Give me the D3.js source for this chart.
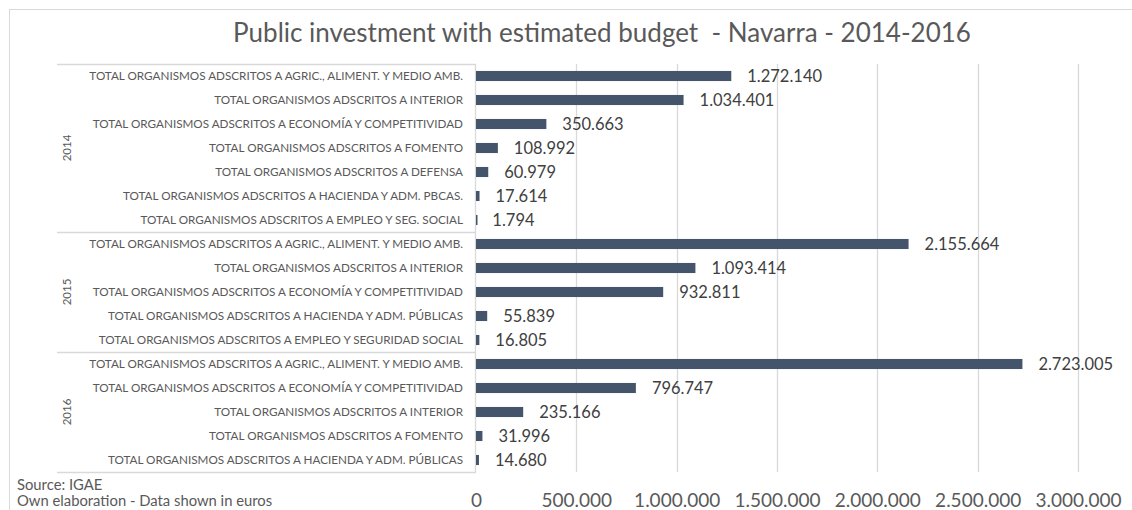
<!DOCTYPE html>
<html><head><meta charset="utf-8">
<script src="https://cdn.jsdelivr.net/npm/d3@7"></script>
<style>
body{margin:0;background:#fff;}
text{font-family:Lato, "Liberation Sans", sans-serif;}
</style></head>
<body><svg id="c" width="1132" height="510"></svg>
<script>
const years = ["2014","2015","2016"];
const labels2014 = [
 "TOTAL ORGANISMOS ADSCRITOS A AGRIC., ALIMENT. Y MEDIO AMB.",
 "TOTAL ORGANISMOS ADSCRITOS A INTERIOR",
 "TOTAL ORGANISMOS ADSCRITOS A ECONOMÍA Y COMPETITIVIDAD",
 "TOTAL ORGANISMOS ADSCRITOS A FOMENTO",
 "TOTAL ORGANISMOS ADSCRITOS A DEFENSA",
 "TOTAL ORGANISMOS ADSCRITOS A HACIENDA Y ADM. PBCAS.",
 "TOTAL ORGANISMOS ADSCRITOS A EMPLEO Y SEG. SOCIAL"];
const values2014 = [1272140,1034401,350663,108992,60979,17614,1794];
const labels2015 = [
 "TOTAL ORGANISMOS ADSCRITOS A AGRIC., ALIMENT. Y MEDIO AMB.",
 "TOTAL ORGANISMOS ADSCRITOS A INTERIOR",
 "TOTAL ORGANISMOS ADSCRITOS A ECONOMÍA Y COMPETITIVIDAD",
 "TOTAL ORGANISMOS ADSCRITOS A HACIENDA Y ADM. PÚBLICAS",
 "TOTAL ORGANISMOS ADSCRITOS A EMPLEO Y SEGURIDAD SOCIAL"];
const values2015 = [2155664,1093414,932811,55839,16805];
const labels2016 = [
 "TOTAL ORGANISMOS ADSCRITOS A AGRIC., ALIMENT. Y MEDIO AMB.",
 "TOTAL ORGANISMOS ADSCRITOS A ECONOMÍA Y COMPETITIVIDAD",
 "TOTAL ORGANISMOS ADSCRITOS A INTERIOR",
 "TOTAL ORGANISMOS ADSCRITOS A FOMENTO",
 "TOTAL ORGANISMOS ADSCRITOS A HACIENDA Y ADM. PÚBLICAS"];
const values2016 = [2723005,796747,235166,31996,14680];
const xTicks = [0,500000,1000000,1500000,2000000,2500000,3000000];
const title = "Public investment with estimated budget  - Navarra - 2014-2016";
const note1 = "Source: IGAE";
const note2 = "Own elaboration - Data shown in euros";

const groups = [[years[0],labels2014,values2014],[years[1],labels2015,values2015],[years[2],labels2016,values2016]];
const rows = [];
groups.forEach(([yr,ls,vs])=>ls.forEach((l,i)=>rows.push({year:yr,label:l,value:vs[i],key:yr+"|"+i})));

const loc = d3.formatLocale({decimal:",",thousands:".",grouping:[3],currency:["","€"]});
const fmt = loc.format(",d");

const svg = d3.select("#c");
const pLeft=476, pRight=1078, pTop=64, pBottom=472;
const x = d3.scaleLinear().domain([0,3000000]).range([pLeft,pRight]);
const y = d3.scaleBand().domain(rows.map(d=>d.key)).range([pTop,pBottom]).paddingInner(0.58).paddingOuter(0.29);

// outer border
svg.append("rect").attr("x",9.5).attr("y",9.5).attr("width",1140).attr("height",520)
  .attr("fill","none").attr("stroke","#d9d9d9");

// title
svg.append("text").attr("x",602).attr("y",42).attr("text-anchor","middle")
  .style("white-space","pre")
  .attr("font-size",26).attr("fill","#595959").text(title);

// gridlines
svg.append("g").selectAll("line").data(xTicks.slice(1)).join("line")
  .attr("x1",d=>Math.round(x(d))+0.5).attr("x2",d=>Math.round(x(d))+0.5)
  .attr("y1",pTop).attr("y2",pBottom).attr("stroke","#d9d9d9").attr("stroke-width",1.3);

// axis tick labels
const xa = svg.append("g").attr("transform",`translate(0,${pBottom})`)
  .call(d3.axisBottom(x).tickValues(xTicks).tickFormat(fmt).tickSize(0).tickPadding(22));
xa.select(".domain").remove();
xa.selectAll("text").attr("font-size",19).attr("fill","#595959").attr("font-family","Lato, sans-serif");

// category box lines
const boxLeft = 57;
const sepYs = [pTop];
groups.forEach(g=>{const k=g[0]+"|"+(g[1].length-1); sepYs.push(y(k)+y.bandwidth()+y.step()*0.29);});
svg.append("g").selectAll("line").data(sepYs).join("line")
  .attr("x1",boxLeft).attr("x2",pLeft).attr("y1",d=>Math.round(d)+0.5).attr("y2",d=>Math.round(d)+0.5)
  .attr("stroke","#d9d9d9").attr("stroke-width",1.3);
svg.append("line").attr("x1",pLeft-0.5).attr("x2",pLeft-0.5).attr("y1",pTop).attr("y2",pBottom)
  .attr("stroke","#d9d9d9").attr("stroke-width",1.3);

// year labels
groups.forEach((g,gi)=>{
  const cy=(sepYs[gi]+sepYs[gi+1])/2;
  svg.append("text").attr("transform",`translate(71,${cy}) rotate(-90)`).attr("text-anchor","middle")
    .attr("font-size",11.5).attr("fill","#595959").text(g[0]);
});

// category labels
svg.append("g").selectAll("text").data(rows).join("text")
  .attr("x",463).attr("y",d=>y(d.key)+y.bandwidth()/2).attr("dy","0.35em")
  .attr("text-anchor","end").attr("font-size",11.7).attr("fill","#595959").text(d=>d.label);

// bars
svg.append("g").selectAll("rect").data(rows).join("rect")
  .attr("x",x(0)).attr("y",d=>y(d.key)).attr("width",d=>Math.max(1.5,x(d.value)-x(0)))
  .attr("height",y.bandwidth()).attr("fill","#44546a");

// value labels
svg.append("g").selectAll("text").data(rows).join("text")
  .attr("x",d=>x(d.value)+16).attr("y",d=>y(d.key)+y.bandwidth()/2).attr("dy","0.36em")
  .attr("font-size",16.5).attr("fill","#404040").text(d=>fmt(d.value));

// notes
svg.append("text").attr("x",17).attr("y",490).attr("font-size",14.8).attr("fill","#595959").text(note1);
svg.append("text").attr("x",17).attr("y",506).attr("font-size",14.8).attr("fill","#595959").text(note2);
</script></body></html>
